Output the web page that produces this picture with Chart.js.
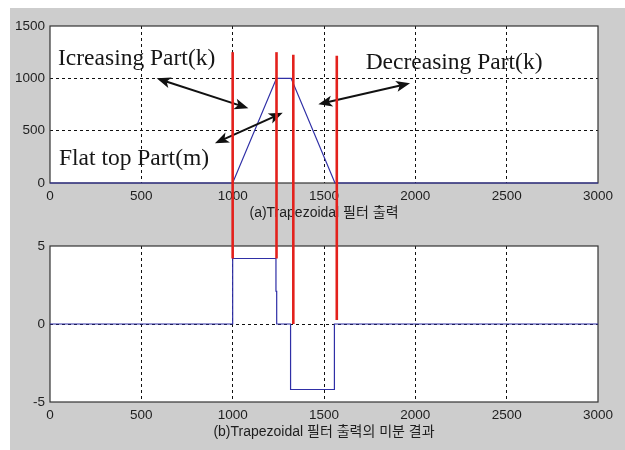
<!DOCTYPE html>
<html>
<head>
<meta charset="utf-8">
<script src="https://cdn.jsdelivr.net/npm/chart.js@4/dist/chart.umd.min.js"></script>
<style>
  html, body { margin: 0; padding: 0; background: #ffffff; }
  #stage { position: relative; width: 625px; height: 450px; overflow: hidden; }
  #panel { position: absolute; left: 10px; top: 8px; width: 615px; height: 442px; background: #cdcdcd; }
  canvas { position: absolute; left: 0; }
  #c1 { top: 0; }
  #c2 { top: 225px; }
  #ov { top: 0; pointer-events: none; }
</style>
</head>
<body>
<div id="stage">
  <div id="panel"></div>
  <canvas id="c1" width="625" height="225"></canvas>
  <canvas id="c2" width="625" height="225"></canvas>
  <canvas id="ov" width="625" height="450"></canvas>
</div>
<script>
// Trapezoidal filter output: sample index vs. amplitude
const trapX = [0, 1000, 1240, 1320, 1560, 3000];
const trapY = [0, 0, 1000, 1000, 0, 0];

// Derivative of the filter output (piecewise constant)
const diffX = [0, 1000, 1000, 1237, 1237, 1241, 1241, 1317, 1317, 1557, 1557, 3000];
const diffY = [0, 0, 4.2, 4.2, 2.1, 2.1, 0, 0, -4.2, -4.2, 0, 0];

// Tick labels
const xTicks = [0, 500, 1000, 1500, 2000, 2500, 3000];
const topYTicks = [0, 500, 1000, 1500];
const bottomYTicks = [-5, 0, 5];

// Panel captions
const topCaption = '(a)Trapezoidal 필터 출력';
const bottomCaption = '(b)Trapezoidal 필터 출력의 미분 결과';

// Red boundary markers: sample index, upper end (top panel units), lower end (bottom panel units)
const markerX = [1000, 1240, 1332, 1570];
const markerTop = [1250, 1250, 1225, 1215];
const markerBottom = [4.2, 4.2, 0, 0.25];

// Region labels on the top panel, anchored in data units
const noteText = ['Icreasing Part(k)', 'Flat top Part(m)', 'Decreasing Part(k)'];
const noteX = [44, 49, 1728];
const noteY = [1127, 172, 1086];

// Double-headed arrows on the top panel, in data units
const arrowFromX = [584, 903, 1469];
const arrowFromY = [1000, 379, 752];
const arrowToX = [1086, 1274, 1971];
const arrowToY = [714, 672, 953];

const TICK_FONT = { family: '"Liberation Sans", Arial, sans-serif', size: 13.5 };
const CAPTION_FONT = { family: '"Liberation Sans", Arial, "Noto Sans CJK KR", sans-serif', size: 14 };
const INK = '#1e1e1e';
const LINE_BLUE = '#2f2fa6';

function pts(xs, ys) { return xs.map((x, i) => ({ x: x, y: ys[i] })); }

function gridColor(values) {
  const lo = values[0], hi = values[values.length - 1];
  return ctx => (ctx.tick && (ctx.tick.value === lo || ctx.tick.value === hi)) ? 'rgba(0,0,0,0)' : '#111111';
}

// White plot background and the surrounding axes box
const framePlugin = {
  id: 'frame',
  beforeDraw(chart) {
    const a = chart.chartArea, c = chart.ctx;
    c.save();
    c.fillStyle = '#ffffff';
    c.fillRect(a.left, a.top, a.right - a.left, a.bottom - a.top);
    c.restore();
  },
  beforeDatasetsDraw(chart) {
    const a = chart.chartArea, c = chart.ctx;
    c.save();
    c.strokeStyle = '#333333';
    c.lineWidth = 1.2;
    c.setLineDash([]);
    c.strokeRect(a.left, a.top, a.right - a.left, a.bottom - a.top);
    c.restore();
  }
};

function arrowHead(c, tx, ty, ang) {
  const L = 14, W = 5.5, N = 3.5;
  const cs = Math.cos(ang), sn = Math.sin(ang);
  c.beginPath();
  c.moveTo(tx, ty);
  c.lineTo(tx - L * cs + W * sn, ty - L * sn - W * cs);
  c.lineTo(tx - (L - N) * cs, ty - (L - N) * sn);
  c.lineTo(tx - L * cs - W * sn, ty - L * sn + W * cs);
  c.closePath();
  c.fill();
}

// Region labels and double arrows
const notesPlugin = {
  id: 'notes',
  afterDatasetsDraw(chart) {
    const c = chart.ctx, sx = chart.scales.x, sy = chart.scales.y;
    c.save();
    c.fillStyle = '#161616';
    c.font = '23.5px "Liberation Serif", "Times New Roman", serif';
    c.textBaseline = 'alphabetic';
    c.textAlign = 'left';
    noteText.forEach((t, i) => c.fillText(t, sx.getPixelForValue(noteX[i]), sy.getPixelForValue(noteY[i])));

    c.strokeStyle = '#111111';
    c.fillStyle = '#111111';
    c.lineWidth = 2;
    for (let i = 0; i < arrowFromX.length; i++) {
      const x1 = sx.getPixelForValue(arrowFromX[i]), y1 = sy.getPixelForValue(arrowFromY[i]);
      const x2 = sx.getPixelForValue(arrowToX[i]), y2 = sy.getPixelForValue(arrowToY[i]);
      const ang = Math.atan2(y2 - y1, x2 - x1);
      const back = 10;
      c.beginPath();
      c.moveTo(x1 + back * Math.cos(ang), y1 + back * Math.sin(ang));
      c.lineTo(x2 - back * Math.cos(ang), y2 - back * Math.sin(ang));
      c.stroke();
      arrowHead(c, x2, y2, ang);
      arrowHead(c, x1, y1, ang + Math.PI);
    }
    c.restore();
  }
};

function makePanel(canvasId, xs, ys, yTicks, caption, padTop, axisHeight, captionPad, extraPlugins) {
  return new Chart(document.getElementById(canvasId), {
    type: 'scatter',
    data: {
      datasets: [{
        data: pts(xs, ys),
        showLine: true,
        borderColor: LINE_BLUE,
        borderWidth: 1.2,
        pointRadius: 0,
        tension: 0,
        clip: 3
      }]
    },
    options: {
      responsive: false,
      animation: false,
      devicePixelRatio: 1,
      layout: { padding: { left: 0, top: padTop, right: 27, bottom: 0 } },
      plugins: { legend: { display: false }, tooltip: { enabled: false } },
      events: [],
      scales: {
        x: {
          type: 'linear',
          min: xTicks[0],
          max: xTicks[xTicks.length - 1],
          afterBuildTicks: s => { s.ticks = xTicks.map(v => ({ value: v })); },
          afterFit: s => { s.height = axisHeight; },
          ticks: { autoSkip: false, maxRotation: 0, padding: 5, color: INK, font: TICK_FONT, callback: v => String(v) },
          grid: { drawTicks: false, color: gridColor(xTicks), lineWidth: 1 },
          border: { display: false, dash: [3, 3] },
          title: { display: true, text: caption, color: INK, font: CAPTION_FONT, padding: { top: 0, bottom: captionPad } }
        },
        y: {
          type: 'linear',
          min: yTicks[0],
          max: yTicks[yTicks.length - 1],
          afterBuildTicks: s => { s.ticks = yTicks.map(v => ({ value: v })); },
          afterFit: s => { s.width = 50; },
          ticks: { padding: 5, color: INK, font: TICK_FONT, callback: v => String(v) },
          grid: { drawTicks: false, color: gridColor(yTicks), lineWidth: 1 },
          border: { display: false, dash: [3, 3] }
        }
      }
    },
    plugins: [framePlugin].concat(extraPlugins)
  });
}

const topChart = makePanel('c1', trapX, trapY, topYTicks, topCaption, 26, 42, 3.6, [notesPlugin]);
const bottomChart = makePanel('c2', diffX, diffY, bottomYTicks, bottomCaption, 21, 48, 9.9, []);

// Red boundary markers spanning both panels
(function drawMarkers() {
  const c = document.getElementById('ov').getContext('2d');
  const offTop = document.getElementById('c1').offsetTop;
  const offBottom = document.getElementById('c2').offsetTop;
  c.strokeStyle = '#e3211c';
  c.lineWidth = 2.6;
  c.lineCap = 'butt';
  for (let i = 0; i < markerX.length; i++) {
    const x = topChart.scales.x.getPixelForValue(markerX[i]);
    const y1 = offTop + topChart.scales.y.getPixelForValue(markerTop[i]);
    const y2 = offBottom + bottomChart.scales.y.getPixelForValue(markerBottom[i]);
    c.beginPath();
    c.moveTo(x, y1);
    c.lineTo(x, y2);
    c.stroke();
  }
})();
</script>
</body>
</html>
